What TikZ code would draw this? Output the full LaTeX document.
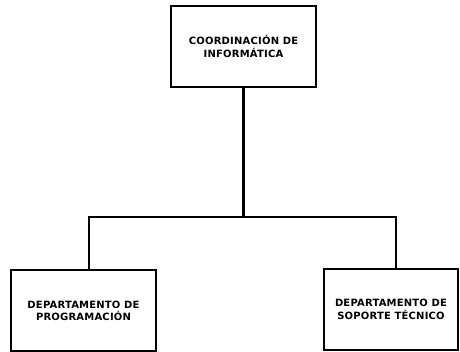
\documentclass[tikz,border=0pt]{standalone}
\usepackage{fontspec}
\setmainfont{DejaVu Sans}[LetterSpace=2]
\begin{document}
\begin{tikzpicture}[x=1pt,y=1pt,
  box/.style={draw, line width=2pt, minimum width=145pt, minimum height=81pt, inner sep=0pt, align=center, font=\bfseries\fontsize{10}{12.5}\selectfont},
  conn/.style={line width=2.2pt}]
\useasboundingbox (0,0) rectangle (460,352);
\node[box] (top) at (243.5,305.5) {COORDINACIÓN DE\\INFORMÁTICA};
\node[box] (left) at (83.5,41) {DEPARTAMENTO DE\\PROGRAMACIÓN};
\node[box, minimum width=134pt] (right) at (391,42.5) {DEPARTAMENTO DE\\SOPORTE TÉCNICO};
\coordinate (busL) at (89,135);
\coordinate (busR) at (396,135);
\draw[conn] (top.south) -- (top.south |- busL);
\draw[conn] (left.north -| busL) -- (busL) -- (busR) -- (right.north -| busR);
\end{tikzpicture}
\end{document}
